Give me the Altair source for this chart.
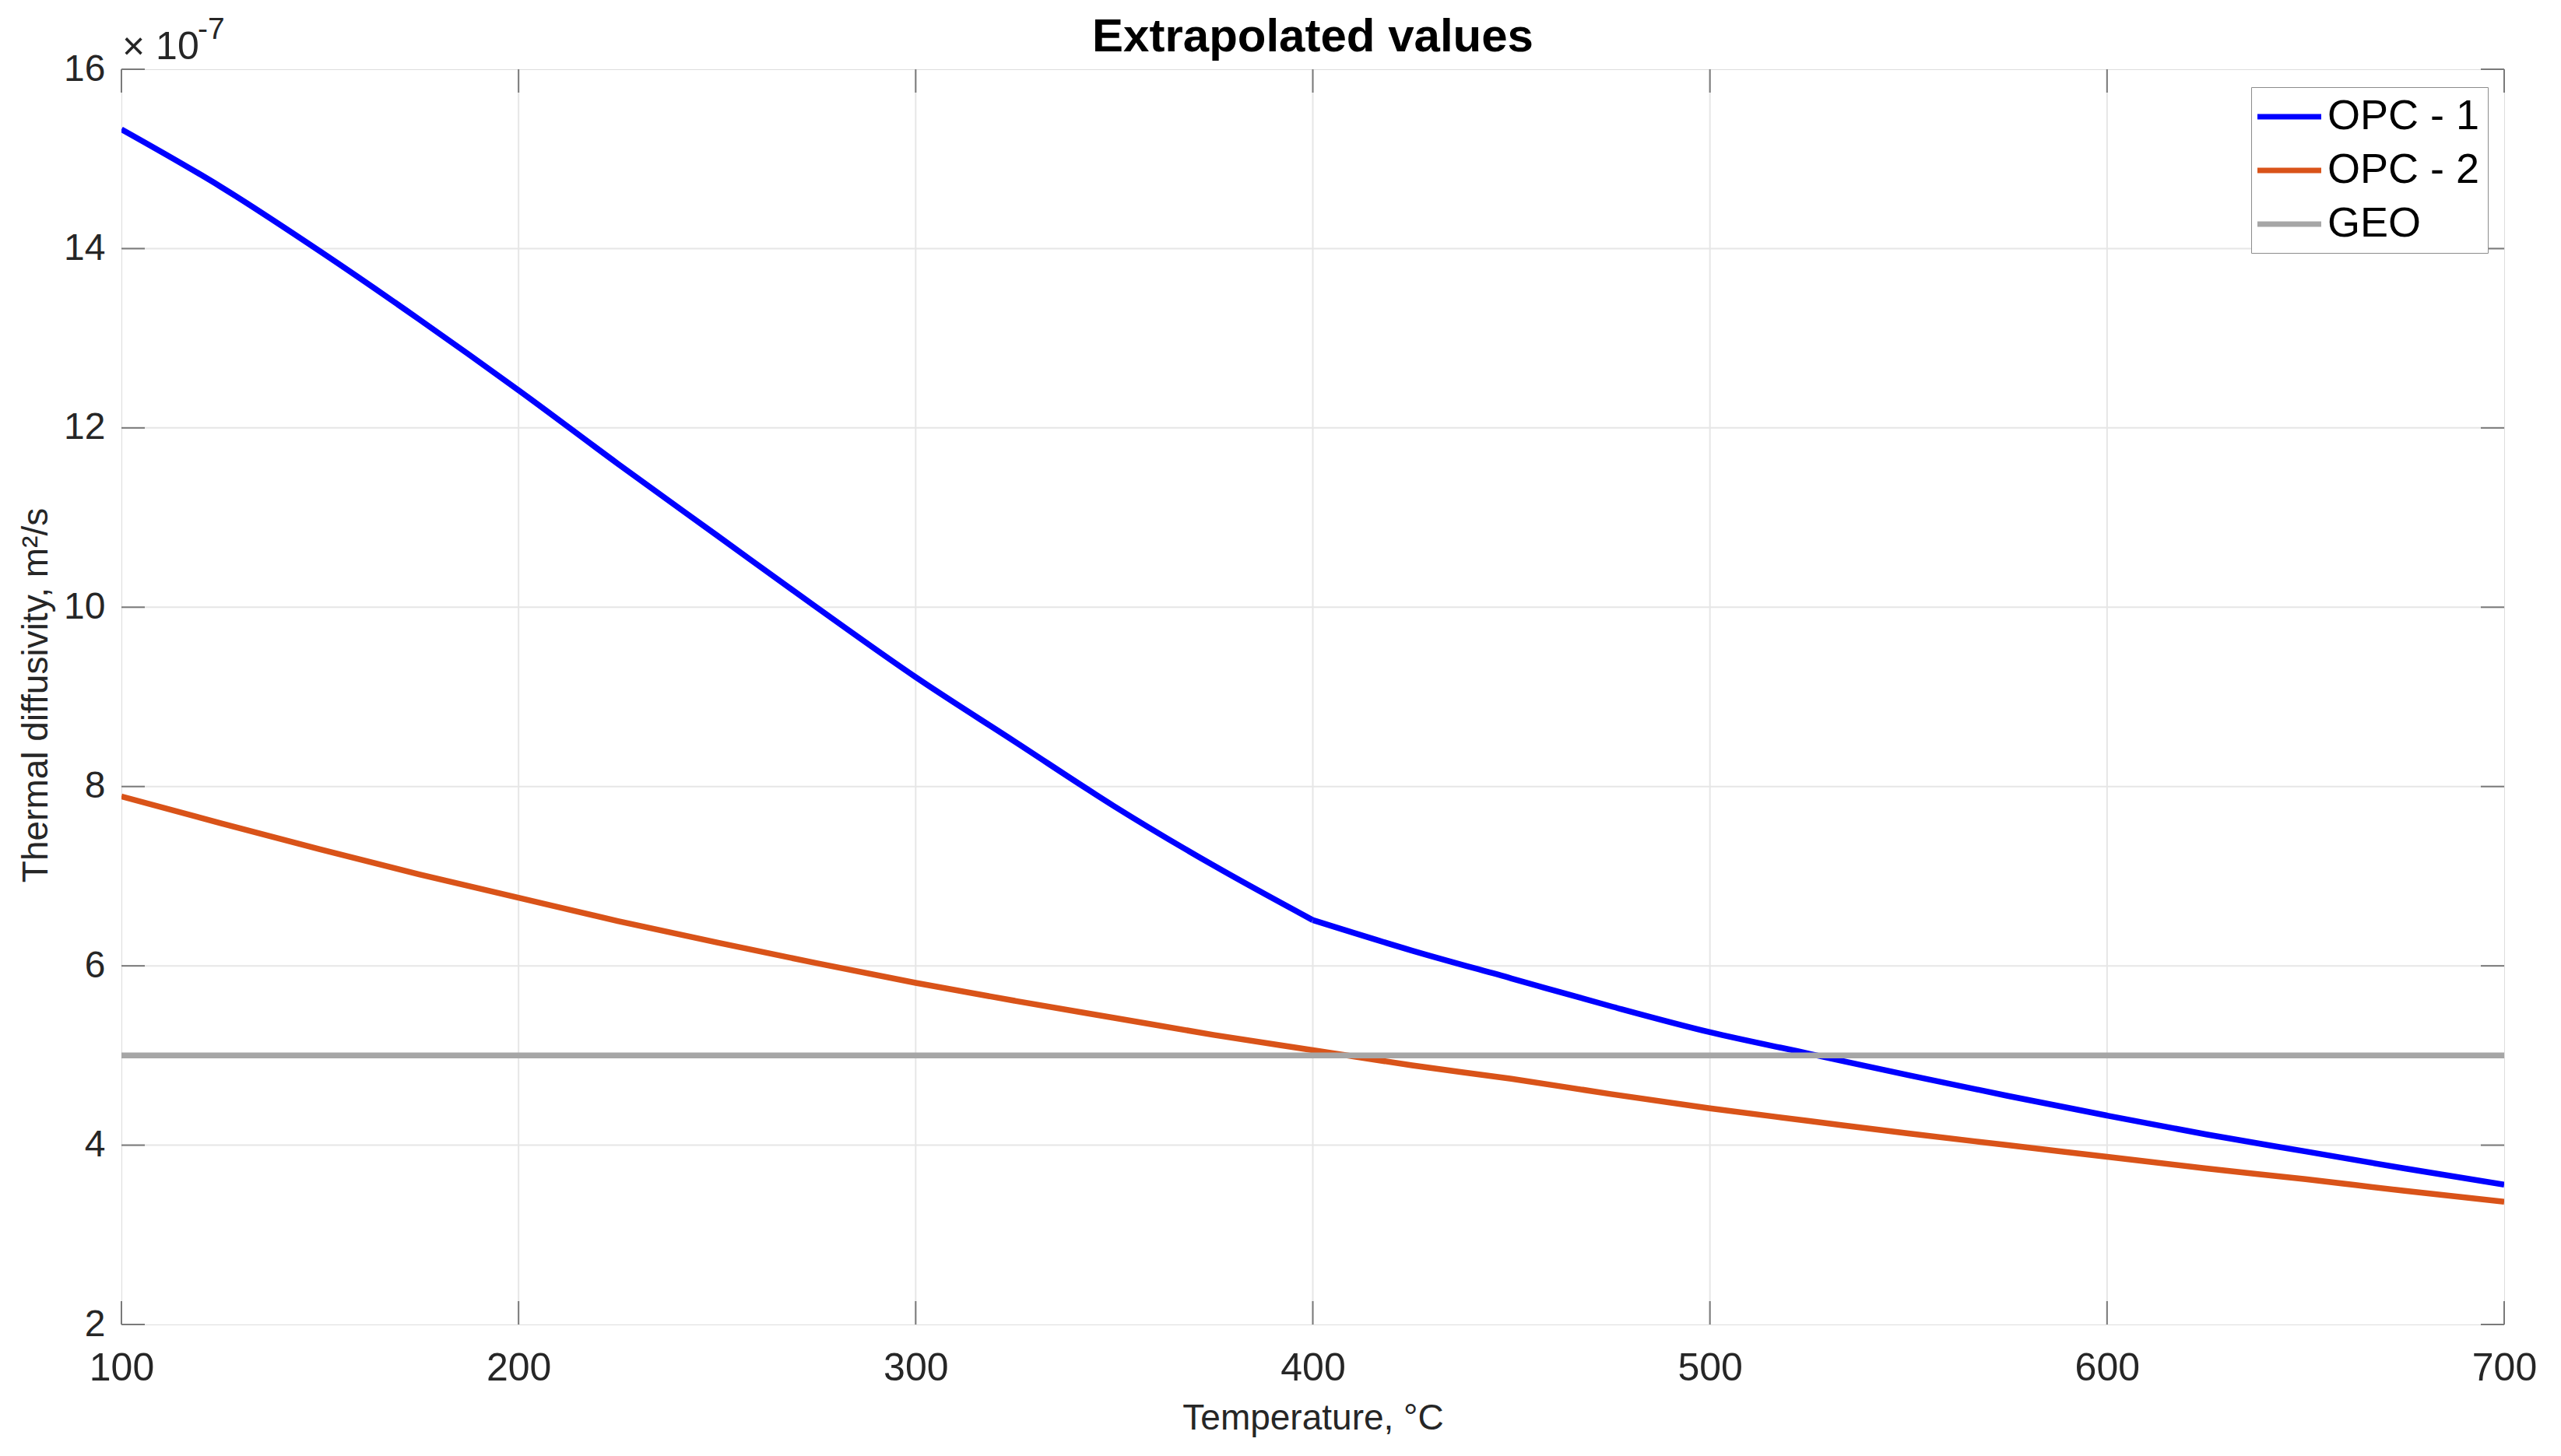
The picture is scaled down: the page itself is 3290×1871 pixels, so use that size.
import altair as alt
import pandas as pd

# ---- data (diffusivity in units of 1e-7 m^2/s) ----
temps = [100, 125, 150, 175, 200, 225, 250, 275, 300, 325, 350, 375, 400,
         425, 450, 475, 500, 525, 550, 575, 600, 625, 650, 675, 700]
opc1 = [15.33, 14.69, 13.97, 13.21, 12.42, 11.60, 10.80, 10.00, 9.22, 8.50,
        7.78, 7.12, 6.51, 6.17, 5.86, 5.55, 5.26, 5.02, 4.78, 4.55, 4.33,
        4.12, 3.93, 3.74, 3.56]
opc2 = [7.89, 7.59, 7.30, 7.02, 6.76, 6.50, 6.26, 6.03, 5.81, 5.61, 5.42,
        5.23, 5.06, 4.89, 4.74, 4.57, 4.41, 4.27, 4.13, 4.00, 3.87, 3.74,
        3.62, 3.49, 3.37]
geo_t = [100, 700]
geo_v = [5.0, 5.0]
opc1_break = 400  # OPC - 1 has a kink here

series_names = ["OPC - 1", "OPC - 2", "GEO"]
series_colors = ["#0000FF", "#D95319", "#A6A6A6"]

x_ticks = [100, 200, 300, 400, 500, 600, 700]
y_ticks = [2, 4, 6, 8, 10, 12, 14, 16]
x_grid = [200, 300, 400, 500, 600]
y_grid = [4, 6, 8, 10, 12, 14]

rows = []
for t, v in zip(temps, opc1):
    if t <= opc1_break:
        rows.append({"T": t, "D": v, "series": "OPC - 1", "seg": "1a"})
    if t >= opc1_break:
        rows.append({"T": t, "D": v, "series": "OPC - 1", "seg": "1b"})
for t, v in zip(temps, opc2):
    rows.append({"T": t, "D": v, "series": "OPC - 2", "seg": "2"})
for t, v in zip(geo_t, geo_v):
    rows.append({"T": t, "D": v, "series": "GEO", "seg": "3"})
df = pd.DataFrame(rows)

W, H = 3061, 1613
FONT = "Liberation Sans"
AXC = "#262626"
BOX = "#7a7a7a"
GRID = "#e6e6e6"
TICK = 30

xscale = alt.Scale(domain=[100, 700], nice=False, zero=False)
yscale = alt.Scale(domain=[2, 16], nice=False, zero=False)

xg = pd.DataFrame({"T": x_grid})
yg = pd.DataFrame({"D": y_grid})
xt = pd.DataFrame({"T": x_ticks})
yt = pd.DataFrame({"D": y_ticks})

grid_x = alt.Chart(xg).mark_rule(color=GRID, strokeWidth=2).encode(
    x=alt.X("T:Q", scale=xscale))
grid_y = alt.Chart(yg).mark_rule(color=GRID, strokeWidth=2).encode(
    y=alt.Y("D:Q", scale=yscale))

lines = alt.Chart(df).mark_line(strokeWidth=7.5, strokeCap="butt",
                                interpolate="monotone", clip=True).encode(
    x=alt.X("T:Q", scale=xscale,
            axis=alt.Axis(values=x_ticks, title="Temperature, °C", format="d",
                          labelFontSize=50, labelFont=FONT, labelColor=AXC,
                          labelPadding=31, labelFlush=False, labelOverlap=False,
                          ticks=False, tickSize=0, domain=False, grid=False,
                          titleFontSize=46, titleFont=FONT, titleFontWeight="normal",
                          titleColor=AXC, titleY=134, titleBaseline="alphabetic")),
    y=alt.Y("D:Q", scale=yscale,
            axis=alt.Axis(values=y_ticks, title="Thermal diffusivity, m²/s", format="d",
                          labelFontSize=48, labelFont=FONT, labelColor=AXC,
                          labelPadding=21, labelFlush=False, labelOverlap=False,
                          ticks=False, tickSize=0, domain=False, grid=False,
                          titleFontSize=46, titleFont=FONT, titleFontWeight="normal",
                          titleColor=AXC, titleX=-96, titleY=804,
                          titleBaseline="alphabetic", titleAlign="center")),
    color=alt.Color("series:N", title=None,
                    scale=alt.Scale(domain=series_names, range=series_colors),
                    legend=alt.Legend(orient="none", legendX=2736, legendY=23,
                                      symbolType="M-1.673,0H1.673", symbolSize=2401,
                                      symbolStrokeWidth=7, symbolOffset=11,
                                      labelFontSize=54, labelFont=FONT, labelColor="#000000",
                                      labelLimit=600, labelOffset=21, padding=10,
                                      rowPadding=14, strokeColor="#8c8c8c",
                                      fillColor="#ffffff")),
    detail="seg:N",
)

tick_bottom = alt.Chart(xt).mark_rule(color=BOX, strokeWidth=2).encode(
    x=alt.X("T:Q", scale=xscale), y=alt.value(H), y2=alt.value(H - TICK))
tick_top = alt.Chart(xt).mark_rule(color=BOX, strokeWidth=2).encode(
    x=alt.X("T:Q", scale=xscale), y=alt.value(0), y2=alt.value(TICK))
tick_left = alt.Chart(yt).mark_rule(color=BOX, strokeWidth=2).encode(
    y=alt.Y("D:Q", scale=yscale), x=alt.value(0), x2=alt.value(TICK))
tick_right = alt.Chart(yt).mark_rule(color=BOX, strokeWidth=2).encode(
    y=alt.Y("D:Q", scale=yscale), x=alt.value(W), x2=alt.value(W - TICK))

exp_base = alt.Chart(pd.DataFrame({"s": ["× 10"]})).mark_text(
    align="left", baseline="alphabetic", fontSize=50, font=FONT, color=AXC
).encode(text="s:N", x=alt.value(1), y=alt.value(-13))
exp_sup = alt.Chart(pd.DataFrame({"s": ["-7"]})).mark_text(
    align="left", baseline="alphabetic", fontSize=39, font=FONT, color=AXC
).encode(text="s:N", x=alt.value(98), y=alt.value(-39))

chart = alt.layer(
    grid_x, grid_y, lines, tick_bottom, tick_top, tick_left, tick_right,
    exp_base, exp_sup
).properties(
    width=W, height=H,
    autosize=alt.AutoSizeParams(type="none"),
    padding={"left": 148, "top": 81, "right": 65, "bottom": 161},
    title=alt.TitleParams("Extrapolated values", fontSize=60, font=FONT,
                          fontWeight="bold", color="#000000", anchor="middle",
                          frame="group", baseline="alphabetic", offset=-107),
).configure_view(
    stroke=BOX, strokeWidth=2
).configure_legend(
    strokeColor="#8c8c8c", fillColor="#ffffff", strokeWidth=2, cornerRadius=0
).configure(background="#ffffff")

chart.save("out.html", embed_options={"renderer": "svg", "actions": False})
